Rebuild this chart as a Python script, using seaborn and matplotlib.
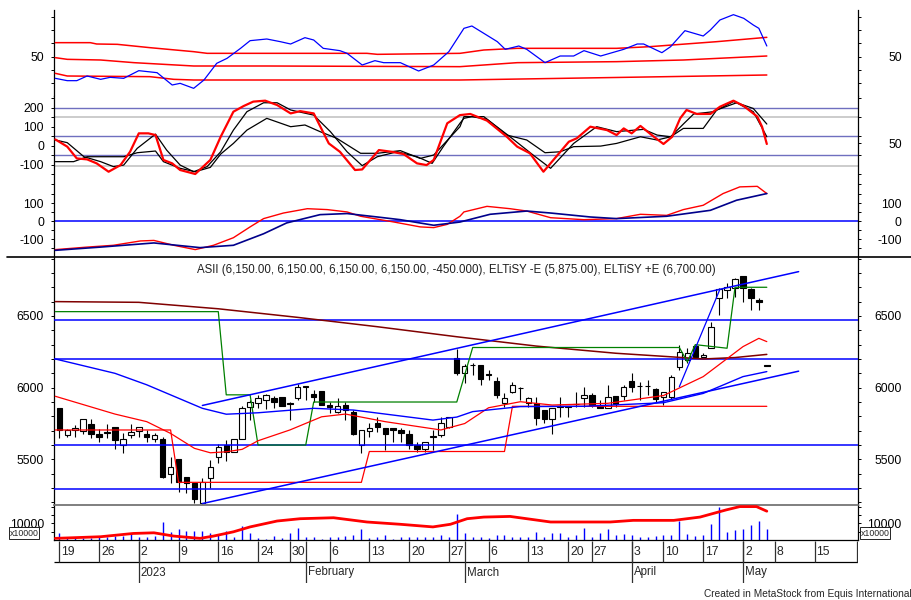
import matplotlib
matplotlib.use("Agg")
import matplotlib.pyplot as plt
import seaborn as sns
from matplotlib import font_manager
from matplotlib.lines import Line2D

# ---------------- data ----------------
# daily bars, Dec 19 2022 .. May 5 2023 (bar index 0..89)
opens = [5856, 5670, 5705, 5700, 5750, 5677, 5690, 5723, 5600, 5670,
         5700, 5677, 5640, 5642, 5398, 5500, 5374, 5332, 5195, 5367,
         5518, 5600, 5553, 5640, 5867, 5890, 5914, 5930, 5932, 5890,
         5925, 6009, 5953, 5976, 5879, 5832, 5879, 5828, 5600, 5700,
         5751, 5721, 5721, 5705, 5674, 5600, 5570, 5655, 5670, 5728,
         6205, 6100, 6158, 6158, 6090, 6049, 5895, 5972, 5997, 5895,
         5895, 5844, 5779, 5870, 5870, 5886, 5926, 5949, 5874, 5856,
         5942, 5942, 6049, 6012, 6012, 5990, 5937, 5937, 6147, 6193,
         6291, 6212, 6274, 6623, 6681, 6693, 6779, 6686, 6610, 6150]
highs = [5860, 5712, 5740, 5785, 5780, 5709, 5746, 5723, 5681, 5746,
         5723, 5705, 5681, 5658, 5518, 5500, 5374, 5332, 5370, 5495,
         5607, 5635, 5642, 5870, 5914, 5949, 5956, 5942, 5932, 5902,
         6023, 6011, 5984, 5976, 5902, 5925, 5902, 5844, 5705, 5751,
         5798, 5721, 5721, 5721, 5705, 5623, 5623, 5705, 5798, 5798,
         6268, 6165, 6170, 6158, 6123, 6077, 5960, 6042, 6007, 5937,
         5937, 5844, 5856, 5937, 5870, 5972, 6007, 5960, 5914, 6019,
         5942, 6019, 6100, 6042, 6053, 5995, 5972, 6088, 6298, 6274,
         6298, 6244, 6460, 6693, 6728, 6763, 6779, 6693, 6625, 6150]
lows = [5648, 5655, 5658, 5676, 5646, 5623, 5646, 5570, 5546, 5646,
        5658, 5623, 5623, 5367, 5337, 5274, 5263, 5193, 5190, 5300,
        5472, 5491, 5553, 5640, 5774, 5856, 5849, 5856, 5872, 5775,
        5914, 5914, 5902, 5879, 5821, 5821, 5775, 5670, 5546, 5658,
        5693, 5565, 5623, 5623, 5570, 5553, 5553, 5565, 5658, 5716,
        6088, 6035, 6088, 6019, 6053, 5926, 5868, 5960, 5914, 5868,
        5740, 5751, 5677, 5798, 5798, 5868, 5868, 5868, 5856, 5856,
        5868, 5914, 5972, 5914, 5949, 5900, 5880, 5923, 6123, 6170,
        6216, 6212, 6274, 6507, 6623, 6635, 6600, 6542, 6542, 6150]
closes = [5705, 5705, 5716, 5780, 5680, 5653, 5685, 5635, 5642, 5693,
          5723, 5653, 5670, 5379, 5449, 5344, 5337, 5221, 5340, 5449,
          5588, 5553, 5642, 5856, 5902, 5925, 5949, 5902, 5872, 5886,
          6002, 6005, 5937, 5879, 5863, 5872, 5844, 5677, 5705, 5721,
          5728, 5677, 5705, 5681, 5600, 5570, 5623, 5660, 5751, 5793,
          6100, 6151, 6155, 6058, 6088, 5949, 5926, 6019, 5995, 5926,
          5786, 5779, 5856, 5867, 5867, 5884, 5949, 5879, 5856, 5937,
          5886, 6002, 6007, 6010, 6010, 5920, 5970, 6077, 6251, 6244,
          6216, 6228, 6426, 6686, 6705, 6756, 6693, 6623, 6600, 6150]
volume = [3900, 1000, 1000, 1000, 1400, 1600, 2000, 2350, 2350, 3900,
          2000, 1600, 2350, 10800, 4900, 6300, 5500, 5500, 5500, 4300,
          2900, 5500, 2000, 8200, 4300, 1400, 400, 2350, 1000, 3900,
          6900, 1800, 1600, 400, 1600, 1600, 2350, 2900, 6300, 1000,
          2000, 2900, 400, 1600, 1600, 1600, 2000, 2000, 2900, 2000,
          15700, 4300, 1600, 2000, 1000, 2900, 2900, 2000, 2000, 1600,
          4900, 2000, 3900, 4300, 1600, 2900, 6900, 1600, 3900, 6300,
          2900, 3500, 2900, 2000, 1600, 2350, 2900, 2900, 11400, 3500,
          2350, 2900, 9800, 19600, 4900, 5900, 6300, 8800, 11400, 6300]

# price overlays (bar index, value)
maroon_x = [-0.5, 10, 20, 30, 40, 50, 60, 70, 77, 81, 85, 89]
maroon_y = [6600, 6595, 6550, 6490, 6425, 6355, 6290, 6240, 6215, 6200, 6210, 6232]
blue_ma_x = [-0.5, 7, 11, 18, 21, 25, 32, 37, 43, 47, 50, 52, 58, 66, 76, 81, 86, 89]
blue_ma_y = [6200, 6100, 6020, 5856, 5815, 5825, 5856, 5844, 5802, 5774, 5795, 5833,
             5868, 5870, 5895, 5960, 6077, 6112]
red_ma_x = [-0.5, 7, 11, 14, 17, 19, 21, 23, 25, 29, 33, 36, 41, 48, 51, 54, 58, 62,
            69, 76, 81, 86, 88, 89]
red_ma_y = [5940, 5816, 5763, 5681, 5577, 5546, 5553, 5570, 5630, 5705, 5797, 5816,
            5763, 5705, 5750, 5860, 5902, 5879, 5891, 5945, 6077, 6286, 6344, 6321]
stop_x = [-0.5, 14, 15, 38, 39, 56, 57, 89]
stop_y = [5705, 5705, 5340, 5340, 5555, 5555, 5870, 5870]
green_x = [-0.5, 20, 21, 24, 25, 31, 32, 50, 52, 78, 79, 80, 84, 85, 89]
green_y = [6530, 6530, 5950, 5950, 5600, 5600, 5900, 5900, 6280, 6280, 6180, 6300,
           6275, 6700, 6700]
levels = [6470, 6200, 5600, 5295]
chan_x = [18, 93]
chan_upper = [5876, 6809]
chan_lower = [5192, 6115]
steep_x = [78, 83.1]
steep_y = [6007, 6686]

# volume average line (x10000)
vol_avg_x = [-0.5, 5.2, 9.3, 11.9, 14.4, 17.7, 19.4, 21.9, 24, 27.4, 30.3, 34.5, 38.7,
             42.9, 47, 49.2, 51.3, 53.4, 56.7, 59.7, 61.8, 69.3, 72.2, 77.3, 80.6,
             83.9, 85.6, 87.7, 89]
vol_avg_y = [980, 1960, 3920, 4310, 2350, 980, 2350, 4900, 7840, 11370, 12750, 13330,
             10780, 9410, 7840, 9410, 12750, 13730, 14120, 12160, 10780, 10780, 11760,
             11760, 13730, 18040, 20000, 20000, 17250]

# top window: oscillator with three bands
osc_x = [-0.5, 1.0, 2.2, 3.5, 5.2, 6.4, 8.1, 10.0, 12.3, 14.2, 15.2, 16.9, 18.2, 19.8,
         21.1, 22.8, 24.0, 26.1, 27.8, 29.1, 30.9, 32.0, 33.2, 35.3, 36.2, 38.1, 39.7,
         40.8, 42.9, 45.2, 47.1, 49.0, 50.9, 51.9, 53.4, 55.1, 56.1, 57.8, 58.8, 61.1,
         63.0, 64.7, 66.0, 68.1, 71.0, 72.7, 73.5, 75.8, 76.9, 78.7, 81.0, 81.9, 83.1,
         84.8, 86.1, 87.3, 88.0, 89.0]
osc_y = [33.75, 32, 32, 35.5, 33, 34.5, 33.75, 39.5, 38, 28.75, 30, 26.25, 32.5, 45,
         48.75, 56.25, 62, 63.25, 61.25, 59.5, 64.25, 62.5, 56.25, 54.5, 52.5, 43.75, 47,
         45.5, 45.5, 39.25, 43.75, 53.75, 71.25, 73, 67.5, 61.25, 55.5, 58, 55.5, 45.5,
         50.5, 50.5, 54.5, 50.5, 55.5, 59.5, 59.5, 53, 57.5, 69.5, 65.5, 70, 77.5, 81.5,
         78.75, 73.75, 71.25, 58]
band_up_x = [-0.5, 3.9, 4.7, 7.3, 11.4, 16.9, 18.6, 26.1, 38.7, 40.0, 50.4, 53.4, 57.6,
             70.1, 74.3, 82.7, 89.0]
band_up_y = [60.5, 60.5, 59.5, 59.25, 56.75, 53.75, 52.5, 52.5, 52.5, 51.75, 52.5, 55,
             56.25, 56.25, 57.5, 61.25, 64.5]
band_mid_x = [-0.5, 1.0, 5.2, 9.4, 16.9, 26.1, 50.4, 57.6, 70.1, 78.5, 89.0]
band_mid_y = [49.25, 48, 47.5, 45.5, 43, 43, 42.5, 45.5, 46.25, 47.5, 50.5]
band_lo_x = [-0.5, 1.0, 11.4, 14.4, 16.9, 50.4, 55.5, 76.4, 89.0]
band_lo_y = [37.5, 35.5, 35, 33, 32.5, 32.5, 33, 35, 36.25]

# second window: CCI and two smoothings
cci_x = [-0.5, 1.0, 2.2, 3.5, 4.7, 6.2, 7.7, 8.9, 10.0, 11.2, 12.1, 13.1, 14.2, 15.2,
         17.1, 19.0, 20.3, 21.9, 23.2, 24.4, 25.9, 27.4, 29.1, 30.3, 32.0, 33.9, 35.3,
         37.2, 38.1, 40.2, 41.8, 43.3, 45.0, 46.2, 47.1, 48.8, 50.4, 51.7, 53.8, 56.3,
         57.6, 59.2, 60.9, 64.1, 65.1, 66.8, 68.9, 70.1, 71.0, 72.0, 73.1, 74.8, 76.0,
         77.1, 78.1, 78.9, 80.2, 81.9, 83.1, 84.8, 86.1, 87.8, 88.4, 89.0]
cci_y = [33, -5, -67, -72, -93, -137, -102, -32, 65, 65, 56, -75, -93, -128, -149, -75,
         47, 179, 209, 232, 237, 214, 170, 182, 170, 12, -32, -128, -125, -23, -32, -44,
         -93, -102, -75, 118, 161, 167, 132, 47, -5, -40, -137, 21, 39, 100, 82, 56, 91,
         65, 104, 47, 9, 47, 144, 188, 167, 167, 205, 237, 209, 153, 100, 9]
fast_x = [-0.5, 1.0, 3.1, 5.2, 6.8, 8.1, 9.8, 12.1, 13.5, 15.2, 16.9, 18.6, 20.3, 21.9,
          23.6, 25.7, 27.4, 29.1, 32.0, 34.1, 36.2, 38.1, 40.0, 42.5, 45.0, 46.9, 48.3,
          50.4, 50.9, 51.9, 53.8, 56.7, 59.6, 61.8, 64.7, 67.6, 70.1, 73.5, 75.2, 76.9,
          78.5, 79.8, 82.3, 84.8, 87.3, 89.0]
fast_y = [30, 16, -58, -84, -110, -102, -14, 61, -23, -102, -137, -110, -32, 82, 179,
          226, 226, 188, 161, 74, -32, -105, -58, -32, -58, -93, -5, 118, 144, 153, 139,
          47, -49, -119, 12, 100, 74, 86, 56, 47, 114, 167, 179, 232, 196, 114]
slow_x = [-0.5, 1.8, 3.5, 6.0, 8.1, 9.8, 12.1, 13.1, 15.2, 17.1, 19.0, 20.3, 21.9, 23.6,
          26.1, 29.1, 30.9, 32.8, 34.9, 37.9, 40.0, 42.9, 45.4, 47.1, 50.4, 50.9, 53.4,
          56.3, 58.8, 61.1, 63.0, 64.7, 68.1, 70.1, 73.1, 75.2, 76.9, 78.5, 81.0, 82.7,
          85.2, 87.3, 89.0]
slow_y = [-84, -84, -58, -58, -58, -37, -28, -84, -119, -137, -114, -44, 12, 82, 144,
          100, 109, 74, 39, -40, -40, -26, -67, -49, 100, 153, 153, 56, 30, -37, -32, -5,
          -2, 12, 47, 30, 47, 91, 91, 188, 226, 179, 47]
cci_levels_blue = [200, 50, -50]
cci_levels_grey = [150, -105]

# third window: two trend lines around zero
tr_red_x = [-0.5, 3.5, 6.8, 10.2, 11.9, 14.4, 17.1, 19.4, 21.9, 24.0, 25.7, 28.2, 31.2,
            33.7, 36.2, 37.9, 42.1, 45.4, 47.1, 48.8, 50.4, 50.9, 53.8, 56.7, 58.8,
            61.8, 66.0, 70.1, 73.1, 76.4, 78.5, 81.0, 83.5, 85.6, 87.8, 89.0]
tr_red_y = [-157, -143, -133, -109, -106, -133, -157, -133, -91, -31, 15, 46, 70, 65,
            52, 28, -4, -31, -35, -17, 28, 52, 83, 70, 57, 20, 9, 15, 39, 33, 65, 89,
            154, 191, 194, 154]
tr_blue_x = [-0.5, 5.2, 11.9, 17.7, 21.9, 25.7, 28.6, 32.8, 36.2, 40.0, 42.9, 47.1, 50.4,
             54.2, 58.8, 61.8, 66.8, 70.1, 76.4, 81.9, 85.2, 89.0]
tr_blue_y = [-161, -143, -120, -146, -133, -69, -9, 37, 43, 24, 9, -22, -4, 39, 57, 46,
             24, 15, 28, 61, 117, 154]

# date axis
week_pos = [0, 5, 10, 15, 20, 25, 29, 34, 39, 44, 49, 54, 59, 64, 67, 72, 76, 81, 86,
            90, 95, 100.4]
week_lab = ['19', '26', '2', '9', '16', '24', '30', '6', '13', '20', '27', '6', '13',
            '20', '27', '3', '10', '17', '2', '8', '15', '22']
month_pos = [10, 31, 51, 72, 86]
month_lab = ['2023', 'February', 'March', 'April', 'May']

title = ("ASII (6,150.00, 6,150.00, 6,150.00, 6,150.00, -450.000), "
         "ELTiSY -E (5,875.00), ELTiSY +E (6,700.00)")

# ---------------- drawing ----------------
sns.set_theme(style="white")
names = {f.name for f in font_manager.fontManager.ttflist}
if "Liberation Sans Narrow" in names:
    plt.rcParams["font.family"] = ["Liberation Sans Narrow", "DejaVu Sans"]
    FS, FS_TICK, FS_SMALL = 10, 10.5, 9
else:
    plt.rcParams["font.family"] = ["Liberation Sans", "DejaVu Sans"]
    FS, FS_TICK, FS_SMALL = 8.3, 8.8, 7.3

W, H = 912, 600
AX_L, AX_R = 54.5, 858
XMIN, XMAX = -0.604, 100.47

fig = plt.figure(figsize=(W / 100, H / 100), dpi=100)


def panel(top, bottom):
    return fig.add_axes([AX_L / W, 1 - bottom / H, (AX_R - AX_L) / W, (bottom - top) / H])


def line(ax, xs, ys, color, lw, z=3):
    sns.lineplot(x=xs, y=ys, ax=ax, color=color, linewidth=lw, estimator=None,
                 sort=False, legend=False, zorder=z)


def style_y(ax, ylim, ticks, labels, minor, rticks=None, rlabels=None):
    ax.set_xlim(XMIN, XMAX)
    ax.set_ylim(*ylim)
    ax.set_xticks([])
    ax.set_xlabel("")
    ax.set_ylabel("")
    for s in ["top", "bottom"]:
        ax.spines[s].set_visible(False)
    for s in ["left", "right"]:
        ax.spines[s].set_color("black")
        ax.spines[s].set_linewidth(0.9)
    ax.set_yticks(ticks)
    ax.set_yticklabels(labels)
    ax.set_yticks(minor, minor=True)
    ax.tick_params(axis="y", which="both", direction="out", length=2.5, width=0.7,
                   colors="black", labelsize=FS_TICK, pad=5, left=True, right=False)
    axr = ax.twinx()
    axr.set_ylim(*ylim)
    for s in axr.spines.values():
        s.set_visible(False)
    axr.set_yticks(rticks if rticks is not None else ticks)
    axr.set_yticklabels(rlabels if rlabels is not None else labels)
    axr.set_yticks(minor, minor=True)
    axr.tick_params(axis="y", which="both", direction="out", length=2.5, width=0.7,
                    colors="black", labelsize=FS_TICK, pad=29, right=True, left=False)
    for t in axr.get_yticklabels():
        t.set_horizontalalignment("right")
    axr.grid(False)
    ax.grid(False)
    return axr


# window 1
ax1 = panel(10, 96)
for xs, ys in [(band_up_x, band_up_y), (band_mid_x, band_mid_y), (band_lo_x, band_lo_y)]:
    line(ax1, xs, ys, "#ff0000", 1.1)
line(ax1, osc_x, osc_y, "#0000ff", 0.9)
style_y(ax1, (20.5, 85), [50], ["50"], [30, 40, 60, 70, 80])

# window 2
ax2 = panel(96, 184)
for lv in cci_levels_blue:
    ax2.axhline(lv, color="#6f6fbf", lw=1.0, zorder=1)
for lv in cci_levels_grey:
    ax2.axhline(lv, color="#c4c4c4", lw=1.2, zorder=1)
line(ax2, slow_x, slow_y, "black", 0.9)
line(ax2, fast_x, fast_y, "black", 0.9)
line(ax2, cci_x, cci_y, "#ff0000", 1.6)
style_y(ax2, (-201.6, 261.6), [200, 100, 0, -100], ["200", "100", "0", "-100"],
        [250, 150, 50, -50, -150, -200], rticks=[13], rlabels=["50"])

# window 3
ax3 = panel(184, 257)
ax3.axhline(0, color="#0000ff", lw=1.1, zorder=1)
line(ax3, tr_red_x, tr_red_y, "#ff0000", 1.0)
line(ax3, tr_blue_x, tr_blue_y, "#00008b", 1.2)
style_y(ax3, (-198, 207), [100, 0, -100], ["100", "0", "-100"], [150, 50, -50, -150])

# price window
axm = panel(257, 505)
for lv in levels:
    axm.axhline(lv, color="#0000ff", lw=1.1, zorder=3)
line(axm, maroon_x, maroon_y, "#800000", 1.1)
line(axm, green_x, green_y, "#008000", 0.9)
line(axm, stop_x, stop_y, "#ff0000", 0.9)
line(axm, red_ma_x, red_ma_y, "#ff0000", 0.9)
line(axm, blue_ma_x, blue_ma_y, "#0000ff", 1.0)
line(axm, chan_x, chan_upper, "#0000ff", 1.1)
line(axm, chan_x, chan_lower, "#0000ff", 1.1)
line(axm, steep_x, steep_y, "#0000ff", 0.9)

idx = list(range(len(closes)))
body_lo = [min(o, c) for o, c in zip(opens, closes)]
body_h = [max(abs(c - o), 5) for o, c in zip(opens, closes)]
fill = ["white" if c > o else "black" for o, c in zip(opens, closes)]
axm.vlines(idx, lows, highs, color="black", lw=0.8, zorder=2)
axm.bar(idx, body_h, bottom=body_lo, width=0.68, color=fill, edgecolor="black",
        linewidth=0.8, zorder=2.5)
axm.text(0.5, 0.948, title, transform=axm.transAxes, ha="center", va="center",
         fontsize=FS, color="#202020")
style_y(axm, (5182, 6911), [6500, 6000, 5500], ["6500", "6000", "5500"],
        [v for v in range(5200, 6901, 100) if v % 500 != 0])

# volume window
axv = panel(505, 540)
axv.vlines(idx, 0, volume, color="#0000ff", lw=1.0, zorder=2)
line(axv, vol_avg_x, vol_avg_y, "#ff0000", 2.0)
style_y(axv, (0, 20960), [10000], ["10000"], [5000, 15000, 20000])
axv.spines["top"].set_visible(True)
axv.spines["top"].set_color("#707070")
axv.spines["bottom"].set_visible(True)
axv.spines["bottom"].set_color("black")
axv.spines["bottom"].set_linewidth(0.9)

# date band
axd = panel(540, 583)
axd.set_xlim(XMIN, XMAX)
axd.set_ylim(43, 0)
axd.axis("off")
axd.hlines([22], XMIN, XMAX, color="black", lw=0.9)
axd.vlines(week_pos, 1, 22, color="#303030", lw=0.9)
axd.vlines(month_pos, 1, 42.5, color="#303030", lw=0.9)
for p, lab in zip(week_pos, week_lab):
    axd.text(p + 0.25, 11.8, lab, ha="left", va="center", fontsize=FS_TICK, clip_on=True)
for p, lab in zip(month_pos, month_lab):
    axd.text(p + 0.25, 32.5, lab, ha="left", va="center", fontsize=FS, clip_on=True)

# separator, unit boxes, footer
fig.add_artist(Line2D([7 / W, 1], [1 - 257 / H] * 2, color="black", lw=1.2))
box = dict(boxstyle="square,pad=0.12", fc="white", ec="black", lw=0.6)
fig.text(24 / W, 1 - 533 / H, "x10000", fontsize=FS_SMALL - 1, ha="center", va="center",
         bbox=box)
fig.text(875 / W, 1 - 533 / H, "x10000", fontsize=FS_SMALL - 1, ha="center", va="center",
         bbox=box)
fig.text(704 / W, 1 - 594 / H, "Created in MetaStock from Equis International",
         fontsize=FS_SMALL, ha="left", va="center")

fig.savefig("out.png", dpi=100)
